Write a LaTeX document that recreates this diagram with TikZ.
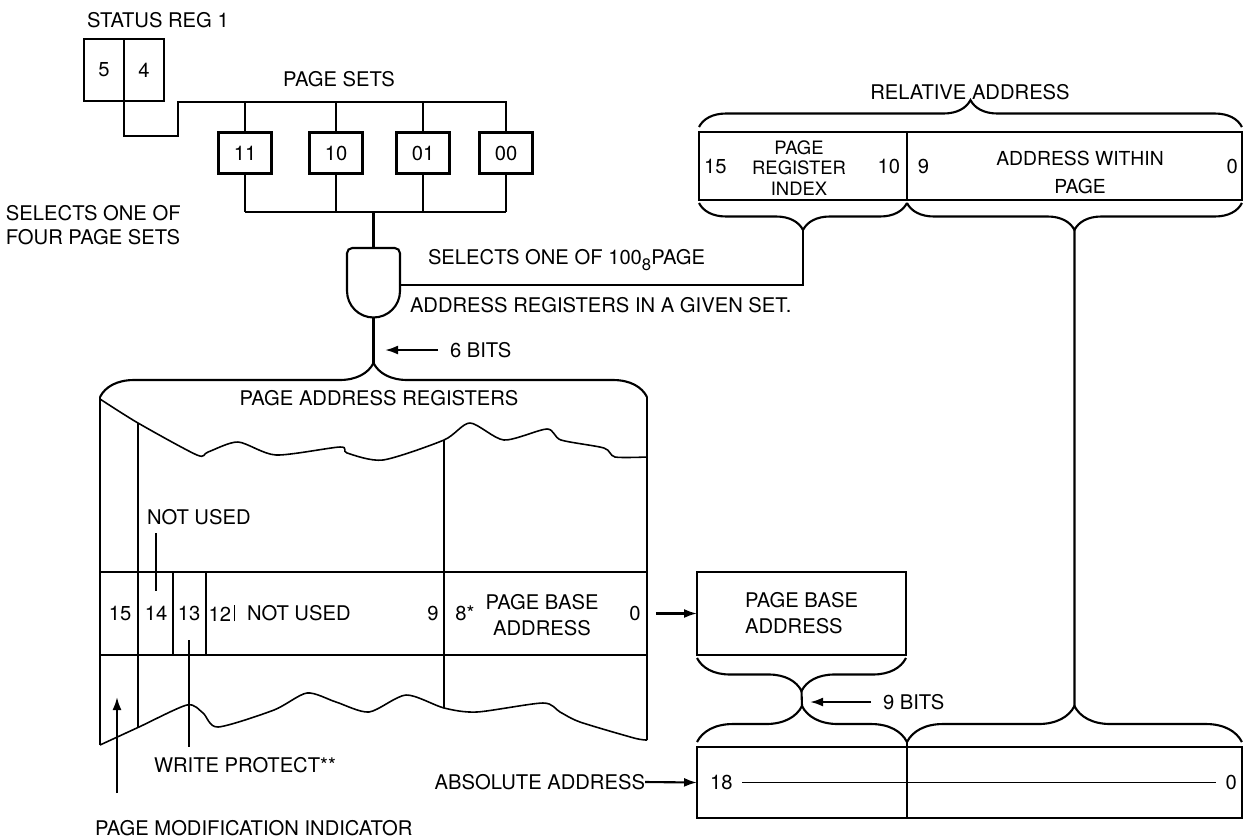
\documentclass[tikz,border=0pt]{standalone}
\usepackage{fontspec}
\setmainfont{TeX Gyre Heros}
\usetikzlibrary{arrows.meta,positioning,decorations.pathreplacing}

\begin{document}
\begin{tikzpicture}[
    x=0.02cm, y=-0.02cm,
    every node/.style={font=\fontsize{11.5}{13.6}\selectfont, inner sep=0pt, outer sep=0pt},
    wire/.style={line width=1.2pt},
    fine/.style={line width=0.9pt},
    bitbox/.style={draw, line width=1.3pt, minimum width=0.8cm, minimum height=1.24cm},
    setbox/.style={draw, line width=1.3pt, minimum width=1.06cm, minimum height=0.82cm},
    field/.style={draw, line width=1pt, minimum height=#1, align=center},
    cbrace/.style={decorate, decoration={brace, amplitude=#1}, line width=1.2pt},
    arrow/.style={-{Latex[length=2.6mm,width=1.8mm]}, line width=1.2pt},
    narrow/.style={font=\fontsize{10.5}{11.6}\selectfont}
  ]
  \useasboundingbox (0,0) rectangle (1244,839);

  % status register and page sets
  \node (srlbl) at (158,20) {STATUS REG 1};
  \node[bitbox] (b5) at (104,70) {5};
  \node[bitbox, right=0pt of b5] (b4) {4};
  \node (pslbl) at (339,79) {PAGE SETS};
  \node[setbox] (s11) at (245,153) {11};
  \node[setbox] (s10) at (336,153) {10};
  \node[setbox] (s01) at (423,153) {01};
  \node[setbox] (s00) at (506,153) {00};
  \coordinate (busin) at (0,102);
  \coordinate (busout) at (0,212);
  \draw[wire] (b5.south east) |- (178,136) |- (s00.north |- busin) -- (s00.north);
  \foreach \s in {s11,s10,s01}
    \draw[wire] (\s.north) -- (\s.north |- busin);
  \foreach \s in {s11,s10,s01,s00}
    \draw[wire] (\s.south) -- (\s.south |- busout);
  \draw[wire] (s11.south |- busout) -- (s00.south |- busout);
  \node[anchor=west, align=left] (sellbl) at (6,225) {SELECTS ONE OF\\FOUR PAGE SETS};

  % gate
  \coordinate (gatein) at (373.5,248);
  \coordinate (gateout) at (373.5,317);
  \coordinate (gateside) at (400,285);
  \draw[wire, rounded corners=3pt] (347,291) -- (347,248) -- (400,248) -- (400,291);
  \draw[wire] (400,291) arc[start angle=0, end angle=-180, radius=0.53cm];
  \draw[wire] (gatein) -- (gatein |- busout);
  \node[anchor=west] (sel1) at (428,260) {SELECTS ONE OF 100\raisebox{-0.55ex}{\fontsize{9.5}{10}\selectfont 8}PAGE};
  \node[anchor=west] (sel2) at (410,305) {ADDRESS REGISTERS IN A GIVEN SET.};

  % relative address
  \node[field=1.36cm, minimum width=4.16cm] (pri) at (803,166) {};
  \node[field=1.36cm, minimum width=6.7cm, right=0pt of pri] (awp) {};
  \node[narrow, align=center] (prilbl) at (799,168) {PAGE\\REGISTER\\INDEX};
  \node[anchor=west] (r15) at ([xshift=0.1cm]pri.west) {15};
  \node[anchor=east] (r10) at ([xshift=-0.14cm]pri.east) {10};
  \node[anchor=west] (r9) at ([xshift=0.22cm]awp.west) {9};
  \node[anchor=east] (r0) at ([xshift=-0.08cm]awp.east) {0};
  \node[align=center, font=\fontsize{11}{15.9}\selectfont] (awplbl) at (1080,172) {ADDRESS WITHIN\\PAGE};
  \node (rellbl) at (970,92) {RELATIVE ADDRESS};
  \draw[cbrace=0.54cm] ([yshift=0.1cm]pri.north west) -- ([yshift=0.1cm]awp.north east);
  \draw[cbrace=0.54cm] ([yshift=-0.06cm]pri.south east) -- ([yshift=-0.06cm]pri.south west);
  \draw[cbrace=0.54cm] ([yshift=-0.06cm]awp.south east) -- ([yshift=-0.06cm]awp.south west);
  \coordinate (pritip) at ([yshift=-0.6cm]pri.south);
  \coordinate (awptip) at ([yshift=-0.6cm]awp.south);
  \draw[wire] (pritip) |- (gateside);

  % page address registers
  \draw[cbrace=0.68cm] (100,397) -- (647,397);
  \coordinate (partip) at (373.5,363);
  \draw[wire] (gateout) -- (partip);
  \node (parlbl) at (379,398) {PAGE ADDRESS REGISTERS};
  \node[anchor=west] (sixlbl) at (450,350) {6 BITS};
  \draw[arrow] ([xshift=-0.24cm]sixlbl.west) -- ++(-1.06cm,0);
  \draw[fine] (100,397) -- (100,745);
  \draw[fine] (647,397) -- (647,740);
  \draw[fine] plot[smooth, tension=0.45] coordinates {(100,399) (138,423) (197,455) (208,452) (238,442) (276,455) (340,447) (347,453) (383,460) (444,440) (470,423) (504,440) (547,429) (561,440) (604,448) (615,457) (647,457)};
  \draw[fine] plot[smooth, tension=0.45] coordinates {(100,745) (139,727) (187,705) (203,713) (218,727) (274,710) (307,693) (336,702) (369,712) (406,695) (444,708) (477,712) (543,703) (560,712) (580,722) (634,738) (647,740)};
  \draw[wire] (138,423) -- (138,727);
  \draw[fine] (444,440) -- (444,708);
  \node[draw, fine, minimum width=10.94cm, minimum height=1.66cm] (par) at (373.5,613.5) {};
  \draw[fine] (173,572) -- (173,655);
  \draw[fine] (206,572) -- (206,655);
  \node (c15) at (120,613) {15};
  \node (c14) at (156,613) {14};
  \node (c13) at (189,613) {13};
  \node (c12) at (222,613) {12\,\rule{0.5pt}{1.6ex}};
  \node[anchor=west] (cnu) at (247,613) {NOT USED};
  \node (c9) at (433,613) {9};
  \node (c8) at (465,613) {8*};
  \node[align=center, font=\fontsize{11.5}{14.7}\selectfont] (cpba) at (542,615) {PAGE BASE\\ADDRESS};
  \node (c0) at (635,613) {0};

  \node[anchor=west] (nulbl) at (147,517) {NOT USED};
  \coordinate (nutop) at (0,533);
  \draw[wire] (c14.north |- nutop) -- ([yshift=0.3cm]c14.north);
  \node[anchor=west] (wplbl) at (154,765) {WRITE PROTECT**};
  \coordinate (wptop) at (0,640);
  \coordinate (wpend) at (0,747);
  \draw[wire] (c13.south |- wptop) -- (c13.south |- wpend);
  \node[anchor=west] (pmilbl) at (95,828) {PAGE MODIFICATION INDICATOR};
  \coordinate (pmitail) at (117,793);
  \coordinate (pmitip) at (117,697);
  \draw[arrow] (pmitail) -- (pmitip);

  % page base and absolute address
  \node[field=1.66cm, minimum width=4.18cm, align=left, font=\fontsize{11.5}{14.7}\selectfont] (pba) at (801.5,613.5) {PAGE BASE\\ADDRESS};
  \draw[arrow] ([xshift=0.18cm]par.east) -- (pba.west);
  \node[field=1.42cm, minimum width=4.2cm] (abs1) at (802,782.5) {};
  \node[field=1.42cm, minimum width=6.7cm, right=0pt of abs1] (abs2) {};
  \draw[cbrace=0.66cm] ([yshift=-0.06cm]pba.south east) -- ([yshift=-0.06cm]pba.south west);
  \draw[cbrace=0.72cm] ([yshift=0.1cm]abs1.north west) -- ([yshift=0.1cm]abs1.north east);
  \draw[cbrace=0.72cm] ([yshift=0.1cm]abs2.north west) -- ([yshift=0.1cm]abs2.north east);
  \coordinate (pbatip) at ([yshift=-0.72cm]pba.south);
  \coordinate (abs1tip) at ([yshift=0.82cm]abs1.north);
  \coordinate (abs2tip) at ([yshift=0.82cm]abs2.north);
  \draw[wire] (pbatip) -- (abs1tip);
  \draw[wire] (awptip) -- (abs2tip);
  \draw[fine] (abs1.north east) -- ++(0,-5);
  \node[anchor=west] (ninelbl) at (883,702) {9 BITS};
  \draw[arrow] ([xshift=-0.24cm]ninelbl.west) -- ++(-1.22cm,0);
  \node[anchor=west] (a18) at ([xshift=0.26cm]abs1.west) {18};
  \node[anchor=east] (a0) at ([xshift=-0.1cm]abs2.east) {0};
  \draw[fine] ([xshift=0.2cm]a18.east) -- ([xshift=-0.2cm]a0.west);
  \node[anchor=east] (abslbl) at (645,782) {ABSOLUTE ADDRESS};
  \draw[arrow] (abslbl.east) -- (abs1.west);
\end{tikzpicture}
\end{document}
